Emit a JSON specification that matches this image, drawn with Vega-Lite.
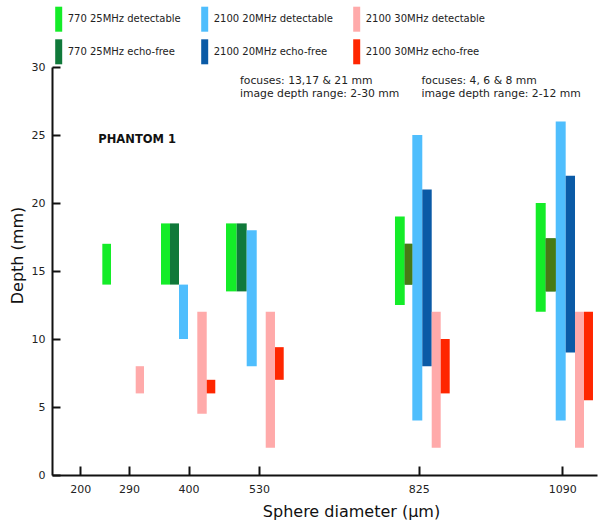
{
  "$schema": "https://vega.github.io/schema/vega-lite/v6.json",
  "width": 545,
  "height": 408,
  "autosize": {"type": "none"},
  "padding": {"left": 52, "top": 67, "right": 5, "bottom": 51},
  "background": "white",
  "config": {"view": {"stroke": null}, "font": "DejaVu Sans"},
  "datasets": {
    "bars": [
      {"diameter": 290, "series": "770 25MHz detectable", "x_start": 240.9, "x_end": 256.9, "depth_min": 14, "depth_max": 17},
      {"diameter": 290, "series": "2100 30MHz detectable", "x_start": 302.5, "x_end": 317.8, "depth_min": 6, "depth_max": 8},

      {"diameter": 400, "series": "770 25MHz detectable", "x_start": 349.2, "x_end": 365.8, "depth_min": 14, "depth_max": 18.5},
      {"diameter": 400, "series": "770 25MHz echo-free", "x_start": 365.8, "x_end": 382.4, "depth_min": 14, "depth_max": 18.5},
      {"diameter": 400, "series": "2100 20MHz detectable", "x_start": 382.4, "x_end": 399.0, "depth_min": 10, "depth_max": 14},
      {"diameter": 400, "series": "2100 30MHz detectable", "x_start": 416.2, "x_end": 433.6, "depth_min": 4.5, "depth_max": 12},
      {"diameter": 400, "series": "2100 30MHz echo-free", "x_start": 433.6, "x_end": 449.4, "depth_min": 6, "depth_max": 7},

      {"diameter": 530, "series": "770 25MHz detectable", "x_start": 469.2, "x_end": 488.9, "depth_min": 13.5, "depth_max": 18.5},
      {"diameter": 530, "series": "770 25MHz echo-free", "x_start": 488.9, "x_end": 507.4, "depth_min": 13.5, "depth_max": 18.5},
      {"diameter": 530, "series": "2100 20MHz detectable", "x_start": 507.4, "x_end": 525.9, "depth_min": 8, "depth_max": 18},
      {"diameter": 530, "series": "2100 30MHz detectable", "x_start": 542.5, "x_end": 559.6, "depth_min": 2, "depth_max": 12},
      {"diameter": 530, "series": "2100 30MHz echo-free", "x_start": 559.6, "x_end": 575.7, "depth_min": 7, "depth_max": 9.4},

      {"diameter": 825, "series": "770 25MHz detectable", "x_start": 781.1, "x_end": 799.1, "depth_min": 12.5, "depth_max": 19},
      {"diameter": 825, "series": "770 25MHz echo-free", "x_start": 799.1, "x_end": 813.1, "depth_min": 14, "depth_max": 17},
      {"diameter": 825, "series": "2100 20MHz detectable", "x_start": 813.1, "x_end": 831.5, "depth_min": 4, "depth_max": 25},
      {"diameter": 825, "series": "2100 20MHz echo-free", "x_start": 831.5, "x_end": 848.9, "depth_min": 8, "depth_max": 21},
      {"diameter": 825, "series": "2100 30MHz detectable", "x_start": 848.9, "x_end": 865.5, "depth_min": 2, "depth_max": 12},
      {"diameter": 825, "series": "2100 30MHz echo-free", "x_start": 865.5, "x_end": 882.1, "depth_min": 6, "depth_max": 10},

      {"diameter": 1090, "series": "770 25MHz detectable", "x_start": 1040.9, "x_end": 1059.3, "depth_min": 12, "depth_max": 20},
      {"diameter": 1090, "series": "770 25MHz echo-free", "x_start": 1059.3, "x_end": 1077.8, "depth_min": 13.5, "depth_max": 17.4},
      {"diameter": 1090, "series": "2100 20MHz detectable", "x_start": 1077.8, "x_end": 1096.2, "depth_min": 4, "depth_max": 26},
      {"diameter": 1090, "series": "2100 20MHz echo-free", "x_start": 1096.2, "x_end": 1113.4, "depth_min": 9, "depth_max": 22},
      {"diameter": 1090, "series": "2100 30MHz detectable", "x_start": 1113.4, "x_end": 1130.0, "depth_min": 2, "depth_max": 12},
      {"diameter": 1090, "series": "2100 30MHz echo-free", "x_start": 1130.0, "x_end": 1146.6, "depth_min": 5.5, "depth_max": 12}
    ]
  },
  "layer": [
    {
      "data": {"name": "bars"},
      "mark": {"type": "rect"},
      "encoding": {
        "x": {
          "field": "x_start", "type": "quantitative",
          "scale": {"domain": [148, 1154], "nice": false, "zero": false},
          "axis": {
            "values": [200, 290, 400, 530, 825, 1090],
            "format": "d",
            "title": "Sphere diameter (μm)",
            "grid": false,
            "domainColor": "#111", "domainWidth": 2,
            "tickColor": "#111", "tickWidth": 2, "tickSize": -9,
            "labelPadding": 17, "labelFontSize": 11, "labelColor": "#222", "labelFont": "DejaVu Sans",
            "labelFlush": false, "labelOverlap": false,
            "titleFont": "DejaVu Sans", "titleFontSize": 16, "titleFontWeight": "normal", "titleColor": "#111",
            "titleX": 299, "titleY": 36, "titleBaseline": "middle"
          }
        },
        "x2": {"field": "x_end"},
        "y": {
          "field": "depth_min", "type": "quantitative",
          "scale": {"domain": [0, 30], "nice": false},
          "axis": {
            "values": [0, 5, 10, 15, 20, 25, 30],
            "title": "Depth (mm)",
            "grid": false,
            "domainColor": "#111", "domainWidth": 2,
            "tickColor": "#111", "tickWidth": 2, "tickSize": -8,
            "labelPadding": 15, "labelFontSize": 11, "labelColor": "#222", "labelFont": "DejaVu Sans",
            "labelFlush": false, "labelOverlap": false,
            "titleFont": "DejaVu Sans", "titleFontSize": 16, "titleFontWeight": "normal", "titleColor": "#111",
            "titleX": -35, "titleY": 188, "titleBaseline": "middle"
          }
        },
        "y2": {"field": "depth_max"},
        "color": {
          "field": "series", "type": "nominal",
          "scale": {
            "domain": ["770 25MHz detectable", "2100 20MHz detectable", "2100 30MHz detectable", "770 25MHz echo-free", "2100 20MHz echo-free", "2100 30MHz echo-free"],
            "range": ["#14ec28", "#4fbefd", "#ffaaaa", "#10793a", "#0a5aa6", "#ff2600"]
          },
          "legend": {
            "orient": "none", "legendX": -5.8, "legendY": -60.3,
            "title": null, "direction": "horizontal", "columns": 3,
            "symbolType": "M-0.28,-1H0.28V1H-0.28Z", "symbolSize": 625, "symbolStrokeWidth": 0,
            "labelFontSize": 10, "labelFont": "DejaVu Sans", "labelColor": "#222",
            "labelOffset": -3.5, "columnPadding": 11, "rowPadding": 7.6, "padding": 0, "labelLimit": 200
          }
        }
      }
    },
    {
      "data": {"name": "bars"},
      "transform": [{"filter": "datum.diameter >= 825 && datum.series == '770 25MHz echo-free'"}],
      "mark": {"type": "rect", "color": "#477a14"},
      "encoding": {
        "x": {"field": "x_start", "type": "quantitative"},
        "x2": {"field": "x_end"},
        "y": {"field": "depth_min", "type": "quantitative"},
        "y2": {"field": "depth_max"}
      }
    },
    {
      "data": {"values": [{"x": 233.5, "y": 24.63, "text": "PHANTOM 1"}]},
      "mark": {"type": "text", "align": "left", "baseline": "middle", "font": "DejaVu Sans", "fontWeight": "bold", "fontSize": 11.5, "color": "#111"},
      "encoding": {
        "x": {"field": "x", "type": "quantitative"},
        "y": {"field": "y", "type": "quantitative"},
        "text": {"field": "text"}
      }
    },
    {
      "data": {"values": [
        {"x": 495, "y": 28.95, "text": "focuses: 13,17 & 21 mm"},
        {"x": 495, "y": 28.05, "text": "image depth range: 2-30 mm"},
        {"x": 830, "y": 28.95, "text": "focuses: 4, 6 & 8 mm"},
        {"x": 830, "y": 28.05, "text": "image depth range: 2-12 mm"}
      ]},
      "mark": {"type": "text", "align": "left", "baseline": "middle", "font": "DejaVu Sans", "fontSize": 10.8, "color": "#222"},
      "encoding": {
        "x": {"field": "x", "type": "quantitative"},
        "y": {"field": "y", "type": "quantitative"},
        "text": {"field": "text"}
      }
    }
  ]
}
